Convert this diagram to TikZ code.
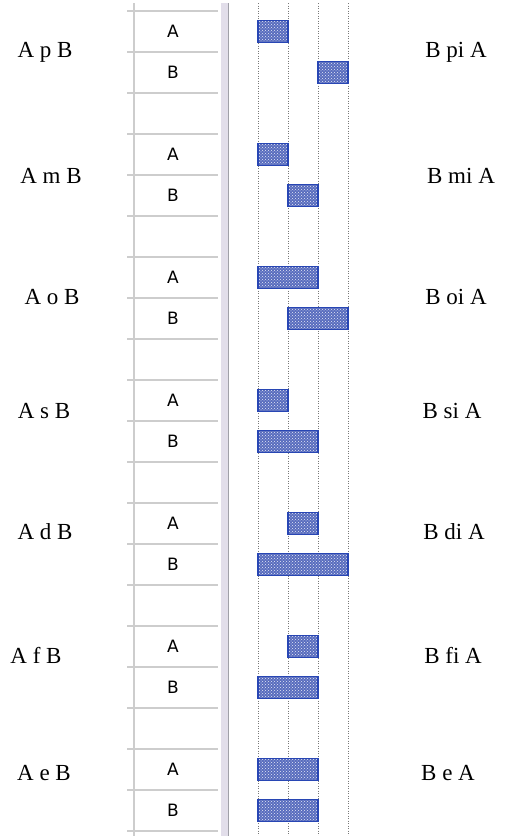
\documentclass[tikz,border=0pt]{standalone}
\usepackage{fontspec}
\setmainfont{Liberation Serif}
\newfontfamily\gridfont{DejaVu Sans}
\usetikzlibrary{patterns}
\definecolor{gridgray}{RGB}{205,205,205}
\definecolor{splitter}{RGB}{226,222,234}
\definecolor{splitedge}{RGB}{160,160,168}
\definecolor{barblue}{RGB}{40,70,180}
\definecolor{barfill}{RGB}{88,108,190}
\definecolor{guide}{RGB}{120,120,120}
\tikzset{
  gridline/.style={draw=gridgray, line width=1.3pt},
  guideline/.style={draw=guide, line width=1pt, dash pattern=on 1pt off 1.5pt},
  bar/.style={preaction={fill=barfill}, pattern=crosshatch dots, pattern color=white!85!barfill,
              draw=barblue, line width=1.2pt, inner sep=0pt, minimum height=22pt},
  rel/.style={font=\fontsize{23}{25}\selectfont, inner sep=0pt},
  rowname/.style={font=\gridfont\fontsize{17}{19}\selectfont, inner sep=0pt},
}
\begin{document}
\begin{tikzpicture}[x=1pt,y=-1pt]
\useasboundingbox (0,0) rectangle (505,836);
% table frame: left border and splitter bar
\coordinate (lt) at (134,3);
\coordinate (lb) at (134,836);
\draw[gridline] (lt) -- (lb);
\fill[splitter] (221,3) rectangle (228,836);
\draw[splitedge, line width=1.2pt] (228.5,3) -- (228.5,836);
% row separators
\foreach \i in {0,...,20}{
  \coordinate (rl\i) at (127,11+41*\i);
  \coordinate (rr\i) at (218,11+41*\i);
  \draw[gridline] (rl\i) -- (rr\i);
}
% dotted time guides
\foreach \x [count=\n] in {258,288,318,348}{
  \coordinate (gt\n) at (\x,3);
  \coordinate (gb\n) at (\x,836);
  \draw[guideline] (gt\n) -- (gb\n);
}
% one group per relation: A row, B row, empty row
\foreach \k/\ax/\aw/\bx/\bw/\lx/\rx/\ly/\lab/\rlab in {
  0/258/30/318/30/45/456/52/{A p B}/{B pi A},
  1/258/30/288/30/51/461/176/{A m B}/{B mi A},
  2/258/60/288/60/52/456/297/{A o B}/{B oi A},
  3/258/30/258/60/44/452/411/{A s B}/{B si A},
  4/288/30/258/90/45/454/532/{A d B}/{B di A},
  5/288/30/258/60/36/453/655/{A f B}/{B fi A},
  6/258/60/258/60/44/448/773/{A e B}/{B e A}}{
  \pgfmathsetmacro{\base}{11+123*\k}
  \node[rowname] (na\k) at (173,\base+20.5) {A};
  \node[rowname] (nb\k) at (173,\base+61.5) {B};
  \node[bar, minimum width=\aw pt] (ba\k) at (\ax+\aw/2,\base+20.5) {};
  \node[bar, minimum width=\bw pt] (bb\k) at (\bx+\bw/2,\base+61.5) {};
  \node[rel] (ll\k) at (\lx,\ly) {\lab};
  \node[rel] (lr\k) at (\rx,\ly) {\rlab};
}
\end{tikzpicture}
\end{document}
